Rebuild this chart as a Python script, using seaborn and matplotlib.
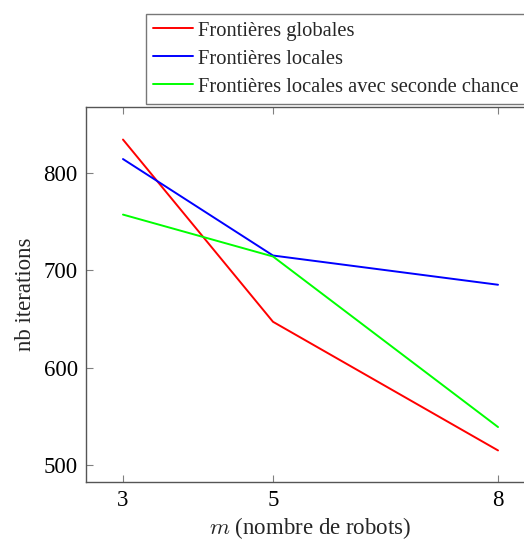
import matplotlib
matplotlib.use("Agg")
import matplotlib.pyplot as plt
import seaborn as sns
import pandas as pd

robots = [3, 5, 8]
globales = [834, 647, 515]
locales = [814, 715, 685]
seconde = [757, 714, 539]
labels = ["Frontières globales", "Frontières locales", "Frontières locales avec seconde chance"]
colors = ["#ff0000", "#0000ff", "#00ff00"]
xticks = [3, 5, 8]
yticks = [500, 600, 700, 800]

sns.set_theme(style="white")
plt.rcParams['font.family'] = ['Liberation Serif', 'DejaVu Serif']
plt.rcParams['mathtext.fontset'] = 'cm'

FS = 16.5
LFS = 14.8

df = pd.concat([
    pd.DataFrame({"m": robots, "val": vals, "serie": lab})
    for vals, lab in zip([globales, locales, seconde], labels)
])

fig = plt.figure(figsize=(5.24, 5.40), dpi=100)
ax = fig.add_axes([86/524, 1 - 482/540, (535 - 86)/524, (482 - 107)/540])
sns.lineplot(data=df, x="m", y="val", hue="serie", palette=colors, ax=ax,
             linewidth=1.4, legend=True)
ax.set_xlim(2.507, 8.493)
ax.set_ylim(482.6, 867.4)
ax.set_xticks(xticks)
ax.set_yticks(yticks)
ax.tick_params(axis="both", direction="in", length=5, width=0.8, color="#808080",
               labelsize=FS, top=True, right=True, left=True, bottom=True,
               labelcolor="black", pad=6)
for s in ax.spines.values():
    s.set_color("#555555")
    s.set_linewidth(1.0)
ax.set_xlabel("$m$ (nombre de robots)", fontsize=FS, labelpad=3)
ax.set_ylabel("nb iterations", fontsize=FS, labelpad=5)

handles, labs = ax.get_legend_handles_labels()
ax.legend(handles, labs, loc="upper right", bbox_to_anchor=(526/524, 1 - 14/540),
          bbox_transform=fig.transFigure, fontsize=LFS, frameon=True, fancybox=False,
          edgecolor="#555555", handlelength=1.95, handletextpad=0.25,
          labelspacing=0.42, borderpad=0.35, borderaxespad=0)
ax.get_legend().get_frame().set_linewidth(1.0)

fig.savefig("out.png", dpi=100)
